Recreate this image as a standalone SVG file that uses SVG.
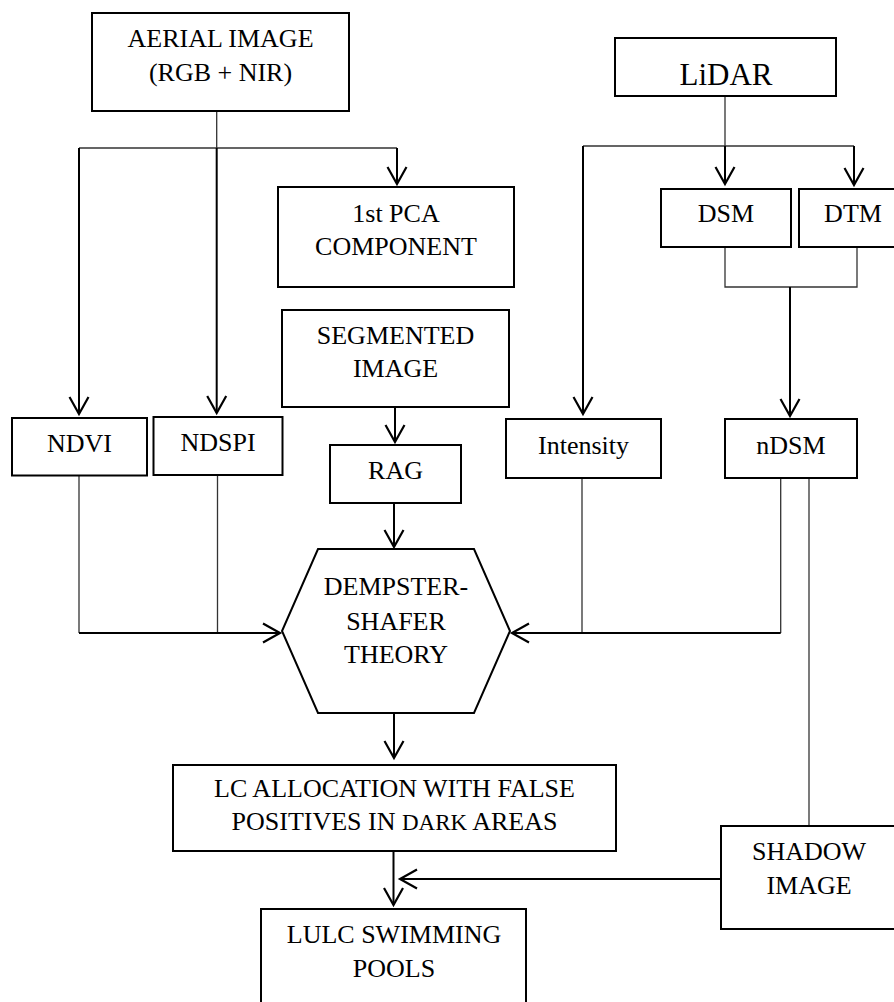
<svg xmlns="http://www.w3.org/2000/svg" width="894" height="1002" viewBox="0 0 894 1002">
<style>
.box{fill:#fff;stroke:#000;stroke-width:2}
text{font-family:"Liberation Serif","Times New Roman",serif;font-size:26px;fill:#000;text-anchor:middle}
.thk{fill:none;stroke:#000;stroke-width:2}
.thn{fill:none;stroke:#333;stroke-width:1.3}
</style>
<defs>
<marker id="ah" markerUnits="userSpaceOnUse" markerWidth="40" markerHeight="40" viewBox="-20 -20 40 40" refX="0" refY="0" orient="auto" overflow="visible">
<path d="M-17,-9.5 L0,0 L-17,9.5" fill="none" stroke="#000" stroke-width="2.2"/>
</marker>
</defs>
<rect width="894" height="1002" fill="#fff"/>

<g id="connectors">
<path class="thn" d="M216.7,111 V148 M79,148 H397"/>
<path class="thk" d="M79,148 V414" marker-end="url(#ah)"/>
<path class="thk" d="M216.7,148 V413" marker-end="url(#ah)"/>
<path class="thk" d="M397,148 V184" marker-end="url(#ah)"/>
<path class="thn" d="M725,96 V146 M583,146 H854"/>
<path class="thk" d="M725,146 V184" marker-end="url(#ah)"/>
<path class="thk" d="M854,146 V185" marker-end="url(#ah)"/>
<path class="thk" d="M583,146 V414" marker-end="url(#ah)"/>
<path class="thn" d="M725,247 V287 H857 V247"/>
<path class="thk" d="M790,287 V416" marker-end="url(#ah)"/>
<path class="thk" d="M395,407 V442" marker-end="url(#ah)"/>
<path class="thk" d="M394,503 V547" marker-end="url(#ah)"/>
<path class="thn" d="M79,476 V633 M217.5,476 V633"/>
<path class="thk" d="M79,633 H280" marker-end="url(#ah)"/>
<path class="thn" d="M582,478 V633 M780.7,478 V633"/>
<path class="thk" d="M780.7,633 H512" marker-end="url(#ah)"/>
<path class="thn" d="M809,478 V826"/>
<path class="thk" d="M394,713 V758" marker-end="url(#ah)"/>
<path class="thk" d="M393.5,851 V905" marker-end="url(#ah)"/>
<path class="thk" d="M721,879 H400" marker-end="url(#ah)"/>
</g>

<g id="aerial"><rect class="box" x="92" y="13" width="257" height="98"/><text x="220.5" y="47">AERIAL IMAGE</text><text x="220.5" y="81">(RGB + NIR)</text></g>
<g id="lidar"><rect class="box" x="615" y="38" width="221" height="58"/><text x="726" y="85" style="font-size:31px">LiDAR</text></g>
<g id="pca"><rect class="box" x="278" y="187" width="236" height="100"/><text x="396" y="222">1st PCA</text><text x="396" y="255">COMPONENT</text></g>
<g id="dsm"><rect class="box" x="661" y="189" width="130" height="58"/><text x="726" y="222">DSM</text></g>
<g id="dtm"><rect class="box" x="799" y="189" width="110" height="58"/><text x="853" y="222">DTM</text></g>
<g id="segmented"><rect class="box" x="282" y="310" width="227" height="97"/><text x="395.5" y="344">SEGMENTED</text><text x="395.5" y="377">IMAGE</text></g>
<g id="ndvi"><rect class="box" x="12" y="418" width="135" height="57.5"/><text x="79.5" y="452">NDVI</text></g>
<g id="ndspi"><rect class="box" x="153.5" y="417" width="129" height="58"/><text x="218" y="451">NDSPI</text></g>
<g id="rag"><rect class="box" x="330" y="445" width="131" height="58"/><text x="395.5" y="479">RAG</text></g>
<g id="intensity"><rect class="box" x="506" y="419" width="155" height="59"/><text x="583.5" y="454">Intensity</text></g>
<g id="ndsm"><rect class="box" x="725" y="419" width="132" height="59"/><text x="791" y="454">nDSM</text></g>
<g id="dempster"><polygon class="box" points="318,549 474,549 510,631 474,713 318,713 282,631"/><text x="396" y="595">DEMPSTER-</text><text x="396" y="630">SHAFER</text><text x="396" y="663">THEORY</text></g>
<g id="lc"><rect class="box" x="173" y="765" width="443" height="86"/><text x="394.5" y="797">LC ALLOCATION WITH FALSE</text><text x="394.5" y="830">POSITIVES IN <tspan style="font-size:23px">DARK</tspan> AREAS</text></g>
<g id="shadow"><rect class="box" x="721" y="826" width="190" height="103"/><text x="809" y="860">SHADOW</text><text x="809" y="894">IMAGE</text></g>
<g id="lulc"><rect class="box" x="261" y="909" width="265" height="110"/><text x="394" y="943">LULC SWIMMING</text><text x="394" y="977">POOLS</text></g>
</svg>
